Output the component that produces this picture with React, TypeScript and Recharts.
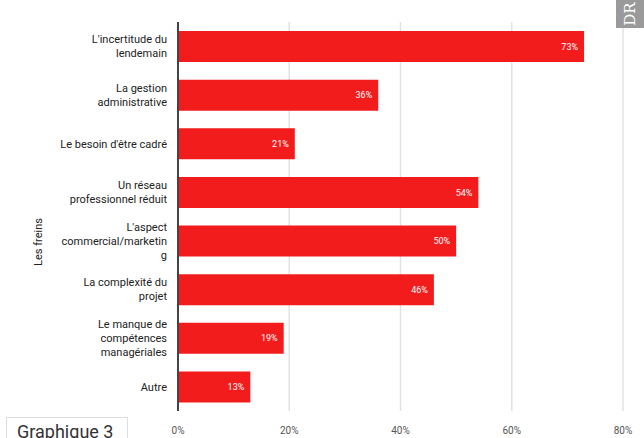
import React from "react";
import { BarChart, Bar, XAxis, YAxis, CartesianGrid, LabelList } from "recharts";

const categories: string[][] = [
  ["L'incertitude du", "lendemain"],
  ["La gestion", "administrative"],
  ["Le besoin d'être cadré"],
  ["Un réseau", "professionnel réduit"],
  ["L'aspect", "commercial/marketin", "g"],
  ["La complexité du", "projet"],
  ["Le manque de", "compétences", "managériales"],
  ["Autre"],
];
const values: number[] = [73, 36, 21, 54, 50, 46, 19, 13];
const xTicks: number[] = [0, 20, 40, 60, 80];

const data = categories.map((c, i) => ({ name: c.join("\n"), value: values[i] }));

const FONT = "Roboto, 'Noto Sans', sans-serif";

const YTick = (props: any) => {
  const { x, y, payload } = props;
  const lines: string[] = String(payload.value).split("\n");
  const lh = 14;
  const start = -((lines.length - 1) * lh) / 2;
  return (
    <text x={x - 3} y={y} textAnchor="end" fontSize={11} fill="#222" fontFamily={FONT}>
      {lines.map((l, i) => (
        <tspan key={i} x={x - 3} dy={i === 0 ? start + 4 : lh}>
          {l}
        </tspan>
      ))}
    </text>
  );
};

export default function App() {
  return (
    <div style={{ position: "absolute", left: 0, top: 0, width: 644, height: 438, background: "#fff", overflow: "hidden", fontFamily: FONT }}>
      <BarChart
        width={644}
        height={438}
        data={data}
        layout="vertical"
        margin={{ top: 22, right: 21, bottom: 0, left: 0 }}
        barSize={31}
      >
        <CartesianGrid horizontal={false} stroke="#e2e2e2" strokeWidth={1.5} />
        <XAxis
          type="number"
          domain={[0, 80]}
          ticks={xTicks}
          tickFormatter={(v: number) => `${v}%`}
          axisLine={false}
          tickLine={false}
          height={27}
          tickMargin={10}
          tick={{ fontSize: 10, fill: "#555", fontFamily: FONT }}
        />
        <YAxis
          type="category"
          dataKey="name"
          width={178}
          tick={<YTick />}
          tickLine={false}
          axisLine={{ stroke: "#444", strokeWidth: 2 }}
          interval={0}
        />
        <Bar dataKey="value" fill="#f21c1c" isAnimationActive={false}>
          <LabelList
            dataKey="value"
            position="insideRight"
            offset={6}
            formatter={(v: any) => `${v}%`}
            style={{ fill: "#fff", fontSize: 9, fontFamily: FONT }}
          />
        </Bar>
      </BarChart>
      <div
        style={{
          position: "absolute",
          left: 38,
          top: 242,
          transform: "translate(-50%, -50%) rotate(-90deg)",
          fontSize: 11,
          color: "#222",
          whiteSpace: "nowrap",
        }}
      >
        Les freins
      </div>
      <div
        style={{
          position: "absolute",
          left: 6,
          top: 417,
          width: 122,
          height: 30,
          borderTop: "1px solid #ddd",
          borderLeft: "1px solid #ddd",
          borderRight: "1px solid #ddd",
          fontSize: 18,
          color: "#333",
          paddingLeft: 10,
          paddingTop: 3,
          boxSizing: "border-box",
          whiteSpace: "nowrap",
          lineHeight: "22px",
        }}
      >
        Graphique 3
      </div>
      <div
        style={{
          position: "absolute",
          left: 616,
          top: 0,
          width: 28,
          height: 28,
          background: "#9a9a9a",
        }}
      >
        <div
          style={{
            position: "absolute",
            left: "50%",
            top: "50%",
            transform: "translate(-50%, -50%) rotate(-90deg)",
            color: "#fff",
            fontSize: 15,
            fontFamily: "'DejaVu Serif', serif",
          }}
        >
          DR
        </div>
      </div>
    </div>
  );
}
